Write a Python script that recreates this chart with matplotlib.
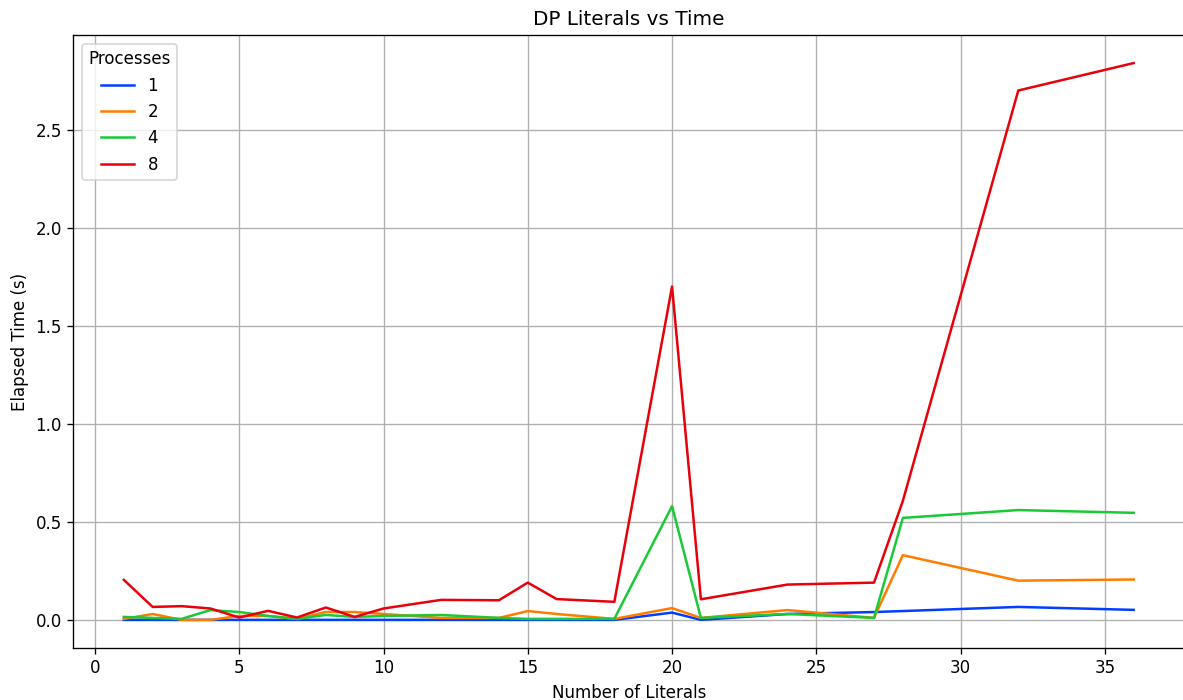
import matplotlib
matplotlib.use('Agg')
import matplotlib.pyplot as plt

# literal counts tested
literals = [1, 2, 3, 4, 5, 6, 7, 8, 9, 10, 12, 14, 15, 16, 18, 20, 21, 24, 27, 28, 32, 36]

# elapsed time (s) per process count
time_p1 = [0.0, 0.0, 0.0, 0.0, 0.0, 0.0, 0.0, 0.0, 0.0, 0.0, 0.0, 0.0, 0.0, 0.0, 0.0,
           0.037, 0.0, 0.03, 0.04, 0.045, 0.066, 0.051]
time_p2 = [0.005, 0.03, 0.0, 0.0, 0.02, 0.02, 0.005, 0.04, 0.04, 0.03, 0.01, 0.01, 0.045, 0.03, 0.005,
           0.06, 0.01, 0.05, 0.01, 0.33, 0.2, 0.206]
time_p4 = [0.015, 0.01, 0.005, 0.05, 0.04, 0.02, 0.005, 0.025, 0.015, 0.02, 0.025, 0.01, 0.005, 0.005, 0.005,
           0.58, 0.01, 0.03, 0.01, 0.52, 0.56, 0.546]
time_p8 = [0.204, 0.066, 0.07, 0.058, 0.012, 0.046, 0.012, 0.063, 0.015, 0.058, 0.102, 0.1, 0.19, 0.106, 0.092,
           1.70, 0.105, 0.18, 0.19, 0.607, 2.70, 2.84]

series = {'1': time_p1, '2': time_p2, '4': time_p4, '8': time_p8}
colors = {'1': '#023eff', '2': '#ff7c00', '4': '#1ac938', '8': '#e8000b'}

fig = plt.figure(figsize=(1183 / 120, 700 / 120), dpi=120)
# the original image is cropped on the right, so the axes run to the edge
ax = fig.add_axes([0.062, 0.0747, 0.939, 0.875])
ax.spines['right'].set_visible(False)
for name, vals in series.items():
    ax.plot(literals, vals, color=colors[name], label=name, linewidth=1.5)

ax.set_title('DP Literals vs Time')
ax.set_xlabel('Number of Literals')
ax.set_ylabel('Elapsed Time (s)')
ax.grid(True)
ax.legend(title='Processes', loc='upper left')

plt.savefig('out.png')
